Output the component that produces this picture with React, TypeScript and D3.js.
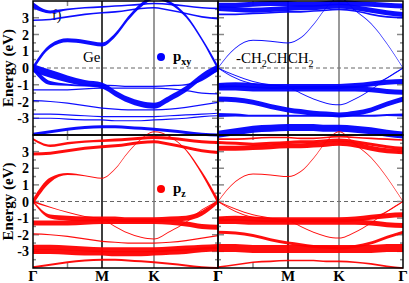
import React, { useEffect, useRef } from 'react';
import * as d3 from 'd3';

// k-path knots: Γ=0, M=1, K=2, Γ=3
const kPts = [0, 0.25, 0.5, 0.75, 1, 1.25, 1.5, 1.75, 2, 2.25, 2.5, 2.75, 3];
const kLabels = ['Γ', 'M', 'K', 'Γ'];
const yTicks = [-3, -2, -1, 0, 1, 2, 3];

// Ge (left column): band energies (eV)
const geE = [
  [0, 1.3, 1.65, 1.55, 1.4, 1.95, 2.95, 3.75, 4.2, 3.9, 3.1, 1.7, 0],
  [0, -0.35, -0.65, -0.9, -1.05, -1.5, -1.9, -2.15, -2.25, -1.8, -1.25, -0.5, 0],
  [0, -0.9, -1.0, -1.05, -1.05, -1.05, -1.1, -1.1, -1.1, -1.05, -1.0, -0.7, 0],
  [-1.3, -1.3, -1.3, -1.25, -1.2, -1.2, -1.2, -1.2, -1.2, -1.25, -1.35, -1.5, -1.55],
  [-1.95, -2.0, -2.1, -2.25, -2.4, -2.45, -2.5, -2.5, -2.5, -2.45, -2.35, -2.2, -2.05],
  [-2.75, -2.75, -2.8, -2.85, -2.9, -2.9, -2.9, -2.9, -2.9, -2.85, -2.8, -2.75, -2.7],
  [-3.0, -3.0, -3.05, -3.1, -3.1, -3.15, -3.15, -3.15, -3.1, -3.05, -3.0, -2.9, -2.85],
  [-3.95, -3.8, -3.65, -3.55, -3.5, -3.5, -3.55, -3.6, -3.65, -3.75, -3.85, -3.95, -4.0],
  [3.75, 3.35, 3.5, 3.6, 3.65, 3.7, 3.75, 3.8, 3.85, 3.8, 3.7, 3.6, 3.55],
  [2.85, 2.9, 3.05, 3.2, 3.3, 3.35, 3.45, 3.55, 3.6, 3.45, 3.25, 3.05, 2.95],
];
// Ge: p_xy weights
const geWxy = [
  [2.5, 2, 2, 2, 2, 2, 2, 2, 2, 1.5, 1.5, 1.5, 2.5],
  [4, 4, 3.5, 3, 3, 3, 3, 3, 3, 3, 3, 3, 3.5],
  [3, 2, 1, 0.8, 0.8, 0.6, 0.6, 0.6, 0.6, 0.6, 0.8, 1.2, 2.5],
  [0.6, 0.6, 0.6, 0.6, 0.6, 0.6, 0.6, 0.6, 0.6, 0.6, 0.6, 0.6, 0.6],
  [0.6, 0.6, 0.6, 0.6, 0.6, 0.6, 0.6, 0.6, 0.6, 0.6, 0.6, 0.6, 0.6],
  [0.6, 0.6, 0.6, 0.6, 0.6, 0.6, 0.6, 0.6, 0.6, 0.6, 0.6, 0.6, 0.6],
  [0.6, 0.6, 0.6, 0.6, 0.6, 0.6, 0.6, 0.6, 0.6, 0.6, 0.6, 0.6, 0.6],
  [1.5, 1.5, 1.5, 1.5, 1.5, 1.5, 1.5, 1.5, 1.5, 1.5, 1.5, 1.5, 1.5],
  [3, 1.5, 0.8, 0.8, 0.8, 0.8, 0.8, 0.8, 0.8, 0.8, 0.8, 0.8, 0.8],
  [0.8, 0.8, 0.8, 0.8, 0.8, 0.8, 0.8, 0.8, 0.8, 0.8, 0.8, 0.8, 0.8],
];
// Ge: p_z weights
const geWz = [
  [3, 2.5, 1, 0.5, 0.5, 0.5, 0.5, 0.5, 0.5, 0.5, 0.8, 1.8, 3],
  [1, 0.5, 0.5, 0.5, 0.5, 0.5, 0.5, 0.5, 0.5, 0.5, 0.5, 0.5, 0.5],
  [1, 2, 2.5, 2.5, 2.5, 2.5, 2.5, 2.5, 2.5, 2.5, 2.5, 2.5, 2],
  [2.5, 2.5, 2.5, 2.5, 2.5, 2.5, 2.5, 2.5, 2.5, 2.5, 2.5, 2.5, 2.5],
  [0.6, 0.6, 0.6, 0.6, 0.6, 0.6, 0.6, 0.6, 0.6, 0.6, 0.6, 0.6, 0.6],
  [2.5, 2.5, 2.5, 2.5, 2.5, 2.5, 2.5, 2.5, 2.5, 2.5, 2.5, 2.5, 2.5],
  [2.5, 2.5, 2.5, 2.5, 2.5, 2.5, 2.5, 2.5, 2.5, 2.5, 2.5, 2.5, 2.5],
  [1, 1, 1, 1, 1, 1, 1, 1, 1, 1, 1, 1, 1],
  [1.2, 1.2, 1.2, 1.2, 1.2, 1.5, 1.5, 1.5, 1.5, 1.5, 1.5, 1.5, 1.5],
  [1.5, 1.5, 1.5, 1.5, 1.5, 1.5, 1.5, 1.5, 1.5, 1.5, 1.5, 1.5, 1.5],
];

// -CH2CHCH2 (right column): band energies (eV)
const chE = [
  [0, 1.2, 1.65, 1.6, 1.5, 1.8, 2.6, 3.6, 4.2, 3.45, 2.65, 1.45, 0],
  [0, -0.45, -0.8, -1.0, -1.15, -1.5, -1.85, -2.1, -2.2, -1.85, -1.3, -0.6, 0],
  [0, -0.6, -0.95, -1.05, -1.1, -1.1, -1.1, -1.1, -1.1, -1.1, -1.0, -0.6, 0],
  [3.75, 3.75, 3.8, 3.85, 3.85, 3.8, 3.8, 3.85, 3.9, 3.85, 3.8, 3.75, 3.7],
  [3.55, 3.5, 3.45, 3.5, 3.55, 3.6, 3.6, 3.65, 3.7, 3.6, 3.45, 3.3, 3.2],
  [3.2, 3.2, 3.25, 3.3, 3.35, 3.35, 3.4, 3.45, 3.5, 3.4, 3.2, 3.05, 3.0],
  [-1.05, -1.0, -1.05, -1.1, -1.1, -1.1, -1.1, -1.1, -1.1, -1.05, -0.95, -0.85, -0.8],
  [-1.2, -1.2, -1.25, -1.25, -1.25, -1.25, -1.25, -1.25, -1.25, -1.25, -1.3, -1.4, -1.45],
  [-1.85, -1.9, -2.05, -2.3, -2.5, -2.6, -2.7, -2.75, -2.8, -2.7, -2.5, -2.15, -1.85],
  [-2.8, -2.8, -2.85, -2.85, -2.85, -2.85, -2.85, -2.85, -2.85, -2.85, -2.85, -2.8, -2.8],
  [-3.95, -3.8, -3.65, -3.6, -3.55, -3.55, -3.55, -3.6, -3.6, -3.65, -3.75, -3.9, -4.0],
];
// -CH2CHCH2: p_xy weights
const chWxy = [
  [0.5, 0.5, 0.5, 0.5, 0.5, 0.5, 0.5, 0.5, 0.5, 0.5, 0.5, 0.5, 0.5],
  [0.5, 0.5, 0.5, 0.5, 0.5, 0.5, 0.5, 0.5, 0.5, 0.5, 0.5, 0.5, 0.5],
  [0.5, 0.5, 0.5, 0.5, 0.5, 0.5, 0.5, 0.5, 0.5, 0.5, 0.5, 0.5, 0.5],
  [2.5, 2.5, 2.5, 2.5, 2.5, 2.5, 2.5, 2.5, 2.5, 2.5, 2.5, 2.5, 2.5],
  [2.5, 2.5, 2.5, 2.5, 2.5, 2.5, 2.5, 2.5, 2.5, 2.5, 2.5, 2.5, 2.5],
  [0.8, 0.8, 0.8, 0.8, 0.8, 0.8, 0.8, 0.8, 0.8, 0.8, 0.8, 0.8, 0.8],
  [2.5, 2.5, 2.5, 2.5, 2.5, 2.5, 2.5, 2.5, 2.5, 2.5, 2.5, 2.5, 2.5],
  [2.5, 2.5, 2.5, 2.5, 2.5, 2.5, 2.5, 2.5, 2.5, 2.5, 2.5, 2.5, 2.5],
  [2.5, 2.5, 2.5, 2.5, 2.5, 2.5, 2.5, 2.5, 2.5, 2.5, 2.5, 2.5, 2.5],
  [2, 1.5, 1, 1, 1, 1, 1, 1, 1, 1, 1, 1, 1.5],
  [3.5, 3.5, 3.5, 3.5, 3.5, 3.5, 3.5, 3.5, 3.5, 3.5, 3.5, 3.5, 3.5],
];
// -CH2CHCH2: p_z weights
const chWz = [
  [0.5, 0.5, 0.5, 0.5, 0.5, 0.5, 0.5, 0.5, 0.5, 0.5, 0.5, 0.5, 0.5],
  [0.5, 0.5, 0.5, 0.5, 0.5, 0.5, 0.5, 0.5, 0.5, 0.5, 0.5, 0.5, 0.5],
  [0.5, 0.5, 0.5, 0.5, 0.5, 0.5, 0.5, 0.5, 0.5, 0.5, 0.5, 0.5, 0.5],
  [0.8, 0.8, 0.8, 0.8, 0.8, 0.8, 0.8, 0.8, 0.8, 0.8, 0.8, 0.8, 0.8],
  [1.5, 1.5, 1.5, 1.5, 1.5, 1.5, 1.5, 1.5, 1.5, 1.5, 1.5, 1.5, 1.5],
  [2.5, 2.5, 2.5, 2.5, 2.5, 2.5, 2.5, 2.5, 2.5, 2.5, 2.5, 2.5, 2.5],
  [2.5, 2.5, 2.5, 2.5, 2.5, 2.5, 2.5, 2.5, 2.5, 2.5, 2.5, 2.5, 2.5],
  [2.5, 2.5, 2.5, 2.5, 2.5, 2.5, 2.5, 2.5, 2.5, 2.5, 2.5, 2.5, 2.5],
  [1.5, 1.5, 1.5, 1.5, 1.5, 1.5, 1.5, 1.5, 1.5, 1.5, 1.5, 1.5, 1.5],
  [4, 4, 4, 4, 4, 4, 4, 4, 4, 4, 4, 4, 4],
  [0.8, 0.8, 0.8, 0.8, 0.8, 0.8, 0.8, 0.8, 0.8, 0.8, 0.8, 0.8, 0.8],
];

export default function App() {
  const svgRef = useRef<SVGSVGElement>(null);

  useEffect(() => {
    if (!svgRef.current) return;
    const svg = d3.select(svgRef.current);
    svg.selectAll('*').remove();

    const width = 409;
    const height = 283;
    svg.attr('width', width).attr('height', height);

    const font = '"Liberation Serif", "Times New Roman", serif';
    const cols = [
      { x: d3.scaleLinear().domain([0, 1, 2, 3]).range([33, 102, 154, 218]), E: geE, wxy: geWxy, wz: geWz },
      { x: d3.scaleLinear().domain([0, 1, 2, 3]).range([218, 288, 339, 403]), E: chE, wxy: chWxy, wz: chWz },
    ];
    const rows = [
      { y: d3.scaleLinear().domain([-4, 4]).range([135, 1]), color: '#0000ff', key: 'wxy' as const },
      { y: d3.scaleLinear().domain([-4, 4]).range([268, 135]), color: '#ff0000', key: 'wz' as const },
    ];

    const defs = svg.append('defs');

    // axis labels
    rows.forEach((r) => {
      yTicks.forEach((t) => {
        svg.append('text')
          .attr('x', 29).attr('y', r.y(t) + 5)
          .attr('text-anchor', 'end')
          .style('font-family', font).style('font-size', '14px').style('font-weight', 'bold')
          .text(t);
      });
      const cy = r.y(0);
      svg.append('text')
        .attr('transform', `translate(13,${cy}) rotate(-90)`)
        .attr('text-anchor', 'middle')
        .style('font-family', font).style('font-size', '15px').style('font-weight', 'bold')
        .text('Energy (eV)');
    });

    cols.forEach((c) => {
      kLabels.forEach((lab, i) => {
        svg.append('text')
          .attr('x', c.x(i)).attr('y', 281)
          .attr('text-anchor', 'middle')
          .style('font-family', font).style('font-size', '15px').style('font-weight', 'bold')
          .text(lab);
      });
    });

    // panel annotations (drawn under bands)
    svg.append('text').attr('x', 52).attr('y', 20)
      .style('font-family', font).style('font-size', '14px').text('f)');
    svg.append('text').attr('x', 83).attr('y', 62)
      .style('font-family', font).style('font-size', '15px').text('Ge');
    const ch = svg.append('text').attr('x', 236).attr('y', 63)
      .style('font-family', font).style('font-size', '15px');
    ch.append('tspan').text('-CH');
    ch.append('tspan').attr('dy', 4).style('font-size', '10px').text('2');
    ch.append('tspan').attr('dy', -4).text('CHCH');
    ch.append('tspan').attr('dy', 4).style('font-size', '10px').text('2');

    const legends = [
      { cy: 57, color: '#0000ff', sub: 'xy' },
      { cy: 189, color: '#ff0000', sub: 'z' },
    ];
    legends.forEach((l) => {
      svg.append('circle').attr('cx', 161).attr('cy', l.cy).attr('r', 4).attr('fill', l.color);
      const t = svg.append('text').attr('x', 173).attr('y', l.cy + 4)
        .style('font-family', font).style('font-size', '15px').style('font-weight', 'bold');
      t.append('tspan').text('p');
      t.append('tspan').attr('dy', 4).style('font-size', '10px').text(l.sub);
    });

    rows.forEach((r, ri) => {
      cols.forEach((c, ci) => {
        const x0 = c.x(0), x1 = c.x(3);
        const yTop = r.y(4), yBot = r.y(-4);
        const g = svg.append('g');

        // zero line
        g.append('line')
          .attr('x1', x0).attr('x2', x1).attr('y1', r.y(0)).attr('y2', r.y(0))
          .attr('stroke', '#666').attr('stroke-width', 1).attr('stroke-dasharray', '4,3');

        // M and K lines
        [1, 2].forEach((k) => {
          g.append('line')
            .attr('x1', c.x(k)).attr('x2', c.x(k)).attr('y1', yTop).attr('y2', yBot)
            .attr('stroke', k === 1 ? '#000' : '#777').attr('stroke-width', 1.5);
        });

        // ticks
        d3.range(-3.5, 4, 0.5).forEach((t) => {
          const len = Number.isInteger(t) ? 6 : 3;
          g.append('line').attr('x1', x0).attr('x2', x0 + len).attr('y1', r.y(t)).attr('y2', r.y(t))
            .attr('stroke', '#888').attr('stroke-width', 1.5);
          g.append('line').attr('x1', x1).attr('x2', x1 - len).attr('y1', r.y(t)).attr('y2', r.y(t))
            .attr('stroke', '#888').attr('stroke-width', 1.5);
        });
        [yTop, yBot].forEach((yy, j) => {
          g.append('line').attr('x1', c.x(0.5)).attr('x2', c.x(0.5))
            .attr('y1', yy).attr('y2', j === 0 ? yy + 5 : yy - 5)
            .attr('stroke', '#888').attr('stroke-width', 1.5);
        });

        // fat bands
        const clipId = `clip-${ri}-${ci}`;
        defs.append('clipPath').attr('id', clipId)
          .append('rect').attr('x', x0).attr('y', yTop - 4).attr('width', x1 - x0).attr('height', yBot - yTop + 8);

        const bands = g.append('g').attr('clip-path', `url(#${clipId})`);
        const W = c[r.key];
        c.E.forEach((e, bi) => {
          const w = W[bi];
          const area = d3.area<number>()
            .x((_, i) => c.x(kPts[i]))
            .y0((v, i) => r.y(v) + Math.max(0.5, w[i]))
            .y1((v, i) => r.y(v) - Math.max(0.5, w[i]))
            .curve(d3.curveMonotoneX);
          bands.append('path')
            .attr('d', area(e))
            .attr('fill', r.color)
            .attr('fill-opacity', 0.95);
        });

        // frame
        g.append('rect')
          .attr('x', x0).attr('y', yTop).attr('width', x1 - x0).attr('height', yBot - yTop)
          .attr('fill', 'none').attr('stroke', '#000').attr('stroke-width', 1.5);
      });
    });
  }, []);

  return (
    <div>
      <svg ref={svgRef} style={{ position: 'absolute', left: 0, top: 0, background: '#fff' }}></svg>
    </div>
  );
}
